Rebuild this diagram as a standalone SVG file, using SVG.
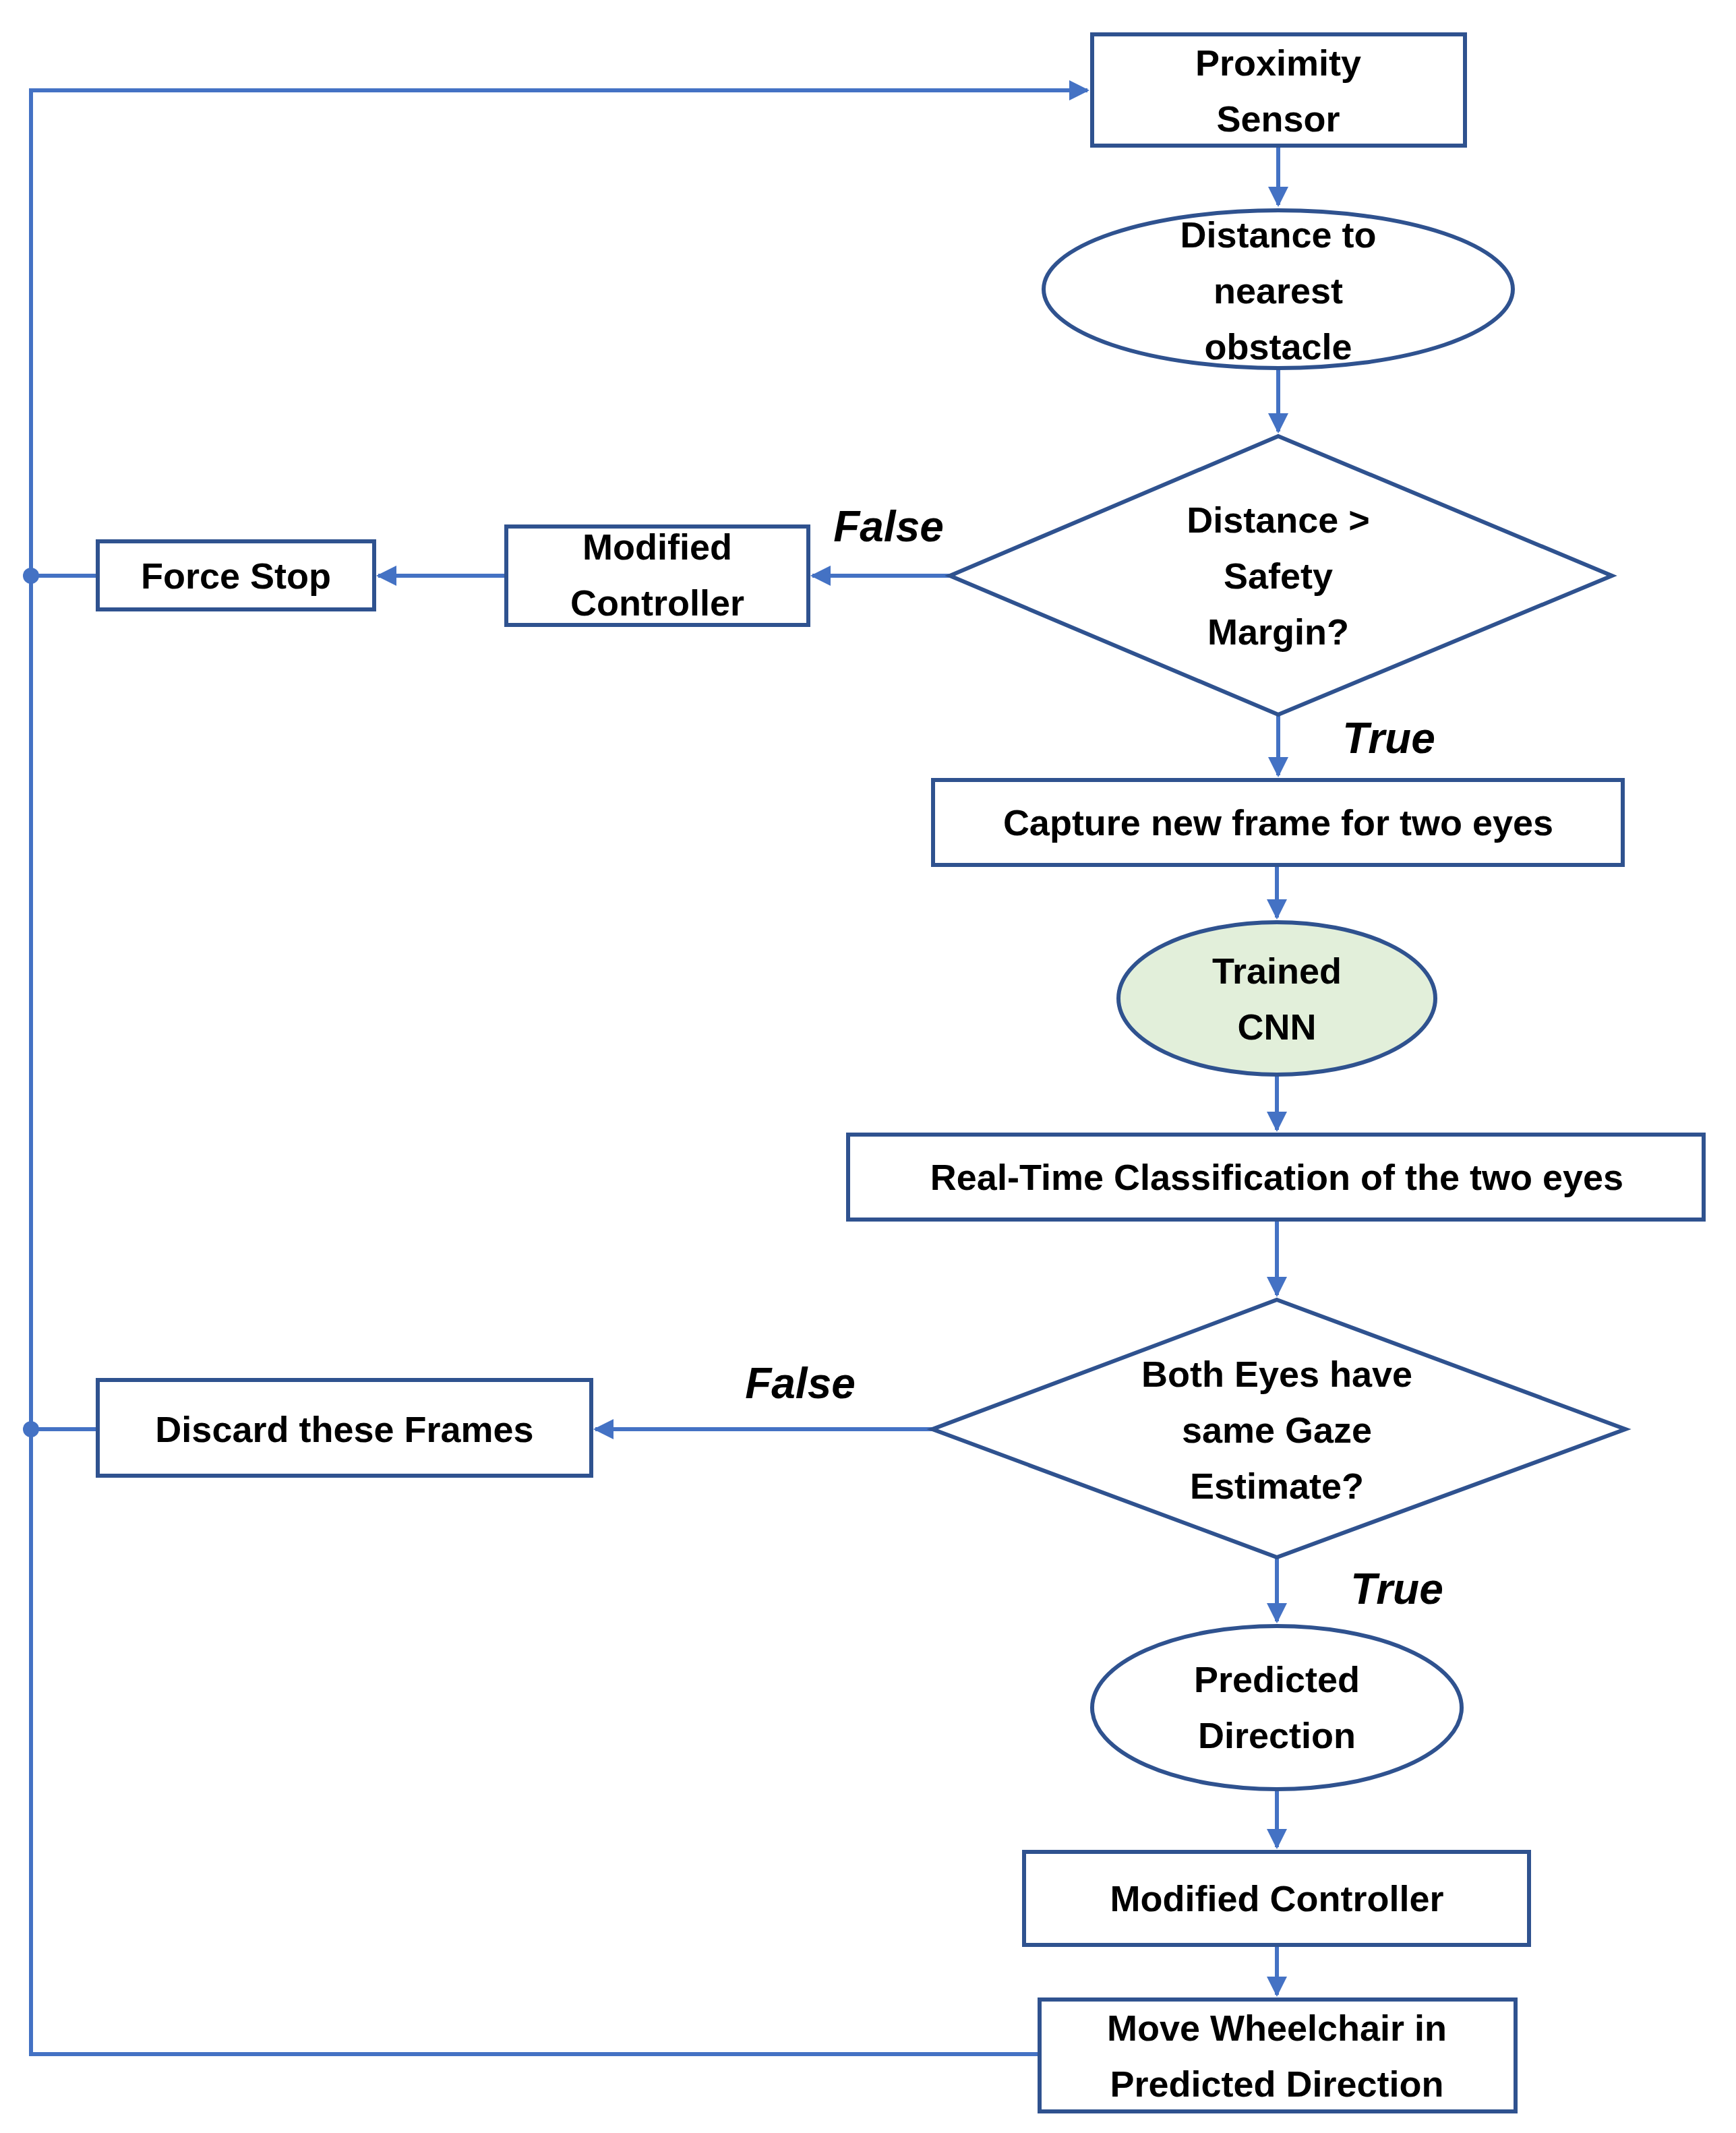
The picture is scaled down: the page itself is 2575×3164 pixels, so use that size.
<svg xmlns="http://www.w3.org/2000/svg" width="2575" height="3164" viewBox="0 0 2575 3164">
<defs>
<style>
.n{fill:#fff;stroke:#2f528f;stroke-width:6}
.t{font-family:"Liberation Sans",Arial,sans-serif;font-weight:bold;font-size:54px;fill:#000;text-anchor:middle}
.l{font-family:"Liberation Sans",Arial,sans-serif;font-weight:bold;font-style:italic;font-size:64px;fill:#000;text-anchor:middle}
.c{fill:none;stroke:#4472c4;stroke-width:6}
</style>
<marker id="a" viewBox="0 0 10 10" refX="9" refY="5" markerWidth="5" markerHeight="5" orient="auto"><path d="M0,0L10,5L0,10z" fill="#4472c4"/></marker>
</defs>
<rect width="2575" height="3164" fill="#fff"/>
<g id="connectors">
<path class="c" d="M1896,216V304" marker-end="url(#a)"/>
<path class="c" d="M1896,546V640" marker-end="url(#a)"/>
<path class="c" d="M1409,854H1205" marker-end="url(#a)"/>
<path class="c" d="M751,854H561" marker-end="url(#a)"/>
<path class="c" d="M1896,1060V1150" marker-end="url(#a)"/>
<path class="c" d="M1894,1283V1361" marker-end="url(#a)"/>
<path class="c" d="M1894,1594V1676" marker-end="url(#a)"/>
<path class="c" d="M1894,1809V1921" marker-end="url(#a)"/>
<path class="c" d="M1383,2120H883" marker-end="url(#a)"/>
<path class="c" d="M1894,2310V2405" marker-end="url(#a)"/>
<path class="c" d="M1894,2654V2740" marker-end="url(#a)"/>
<path class="c" d="M1894,2885V2959" marker-end="url(#a)"/>
<path class="c" d="M1542,3047H46V134H1613" marker-end="url(#a)"/>
<path class="c" d="M145,854H46M145,2120H46"/>
<circle cx="46" cy="854" r="12" fill="#4472c4"/>
<circle cx="46" cy="2120" r="12" fill="#4472c4"/>
<text class="l" x="1318" y="803">False</text>
<text class="l" x="2060" y="1117">True</text>
<text class="l" x="1187" y="2074">False</text>
<text class="l" x="2072" y="2379">True</text>
</g>
<g id="prox"><rect class="n" x="1620" y="51" width="553" height="165"/><text class="t" x="1896" y="112">Proximity</text><text class="t" x="1896" y="195">Sensor</text></g>
<g id="dist"><ellipse class="n" cx="1896" cy="429" rx="348" ry="117"/><text class="t" x="1896" y="367">Distance to</text><text class="t" x="1896" y="450">nearest</text><text class="t" x="1896" y="533">obstacle</text></g>
<g id="dec1"><path class="n" d="M1896,647L2391,854L1896,1060L1409,854z"/><text class="t" x="1896" y="790">Distance &gt;</text><text class="t" x="1896" y="873">Safety</text><text class="t" x="1896" y="956">Margin?</text></g>
<g id="mod1"><rect class="n" x="751" y="781" width="448" height="146"/><text class="t" x="975" y="830">Modified</text><text class="t" x="975" y="913">Controller</text></g>
<g id="stop"><rect class="n" x="145" y="803" width="410" height="101"/><text class="t" x="350" y="873">Force Stop</text></g>
<g id="capture"><rect class="n" x="1384" y="1157" width="1023" height="126"/><text class="t" x="1896" y="1239">Capture new frame for two eyes</text></g>
<g id="cnn"><ellipse cx="1894" cy="1481" rx="235" ry="113" fill="#e2efda" stroke="#2f528f" stroke-width="6"/><text class="t" x="1894" y="1459">Trained</text><text class="t" x="1894" y="1542">CNN</text></g>
<g id="rt"><rect class="n" x="1258" y="1683" width="1269" height="126"/><text class="t" x="1894" y="1765">Real-Time Classification of the two eyes</text></g>
<g id="dec2"><path class="n" d="M1894,1928L2411,2120L1894,2310L1383,2120z"/><text class="t" x="1894" y="2057">Both Eyes have</text><text class="t" x="1894" y="2140">same Gaze</text><text class="t" x="1894" y="2223">Estimate?</text></g>
<g id="discard"><rect class="n" x="145" y="2047" width="732" height="142"/><text class="t" x="511" y="2139">Discard these Frames</text></g>
<g id="pred"><ellipse class="n" cx="1894" cy="2533" rx="274" ry="121"/><text class="t" x="1894" y="2510">Predicted</text><text class="t" x="1894" y="2593">Direction</text></g>
<g id="mod2"><rect class="n" x="1519" y="2747" width="749" height="138"/><text class="t" x="1894" y="2835">Modified Controller</text></g>
<g id="move"><rect class="n" x="1542" y="2966" width="706" height="166"/><text class="t" x="1894" y="3027">Move Wheelchair in</text><text class="t" x="1894" y="3110">Predicted Direction</text></g>
</svg>
